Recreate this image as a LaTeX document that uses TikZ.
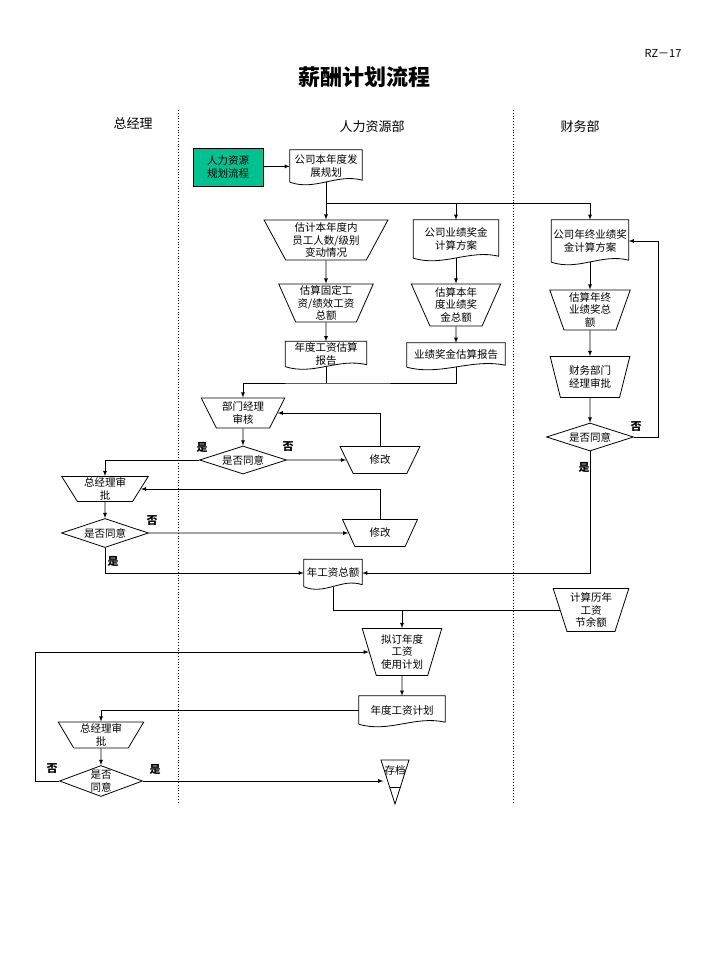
\documentclass[tikz,border=0pt]{standalone}
\usepackage{fontspec}
\setmainfont{Noto Sans CJK SC}
\usetikzlibrary{shapes.geometric,calc}
\definecolor{hrgreen}{RGB}{0,194,144}
\newcommand{\nodefont}{\fontsize{10.5}{12.8}\selectfont}
\begin{document}
\begin{tikzpicture}
    [
    x=1pt, y=-1pt,
    line/.style={draw, line width=0.8pt},
    arrow/.style={line, -latex},
    lane/.style={draw, line width=0.8pt, dotted},
    lanehead/.style={font=\fontsize{13}{13}\selectfont},
    yesno/.style={inner sep=1pt, font=\fontsize{11}{11}\selectfont\bfseries},
    doc/.style={rectangle, align=center, inner sep=1pt, font=\nodefont,
        append after command={\pgfextra{
            \draw[line] (\tikzlastnode.south west) -- (\tikzlastnode.north west)
                -- (\tikzlastnode.north east) -- ([yshift=2pt]\tikzlastnode.south east)
                .. controls ($(\tikzlastnode.south west)!0.65!(\tikzlastnode.south east)+(0,9pt)$)
                and ($(\tikzlastnode.south west)!0.35!(\tikzlastnode.south east)+(0,-9pt)$)
                .. (\tikzlastnode.south west);}}},
    subproc/.style={rectangle, draw, line width=0.8pt, fill=hrgreen, align=center,
        inner sep=1pt, font=\nodefont,
        append after command={\pgfextra{
            \draw[line] ([xshift=7pt]\tikzlastnode.north west) -- ([xshift=7pt]\tikzlastnode.south west);
            \draw[line] ([xshift=-7pt]\tikzlastnode.north east) -- ([xshift=-7pt]\tikzlastnode.south east);}}},
    trap/.style={trapezium, shape border rotate=180, trapezium stretches=true,
        trapezium angle=#1, draw, line width=0.8pt, align=center, inner sep=0pt, font=\nodefont},
    trap/.default=62,
    decision/.style={diamond, draw, line width=0.8pt, aspect=3, inner sep=0pt,
        align=center, font=\nodefont}
    ]
    \useasboundingbox (0,0) rectangle (720,960);

    \node (title) at (364,77) [font=\fontsize{22}{22}\selectfont\bfseries] {薪酬计划流程};
    \node (code) at (663,53) [font=\fontsize{11}{11}\selectfont] {RZ－17};
    \node (gm) at (133,123) [lanehead] {总经理};
    \node (hrd) at (372,127) [lanehead] {人力资源部};
    \node (fin) at (580,127) [lanehead] {财务部};
    \draw [lane] (178,110) -- (178,802);
    \draw [lane] (513,110) -- (513,802);

    \node (plan) at (228,167) [subproc, minimum width=70, minimum height=38] {人力资源\\规划流程};
    \node (dev) at (326,166) [doc, minimum width=72, minimum height=32] {公司本年度发\\展规划};
    \node (staff) at (326,240) [trap=63, minimum width=124, minimum height=40] {估计本年度内\\员工人数/级别\\变动情况};
    \node (bonusplan) at (456,239) [doc, minimum width=85, minimum height=38] {公司业绩奖金\\计算方案};
    \node (yearplan) at (590,241) [doc, minimum width=77, minimum height=42] {公司年终业绩奖\\金计算方案};
    \node (wagesum) at (326,303) [trap=66, minimum width=95, minimum height=38] {估算固定工\\资/绩效工资\\总额};
    \node (bonussum) at (456,305) [trap=67, minimum width=90, minimum height=42] {估算本年\\度业绩奖\\金总额};
    \node (yearsum) at (590,310) [trap=72, minimum width=81, minimum height=40] {估算年终\\业绩奖总\\额};
    \node (wagerep) at (326,354) [doc, minimum width=81, minimum height=25] {年度工资估算\\报告};
    \node (bonusrep) at (456,355) [doc, minimum width=98, minimum height=24] {业绩奖金估算报告};
    \node (finchk) at (590,377) [trap=72, minimum width=80, minimum height=41] {财务部门\\经理审批};
    \node (deptchk) at (243,413) [trap, minimum width=84, minimum height=30] {部门经理\\审核};
    \node (ok1) at (243,460) [decision, minimum width=87, minimum height=28] {是否同意};
    \node (fix1) at (380,460) [trap, minimum width=80, minimum height=27] {修改};
    \node (okf) at (590,437) [decision, minimum width=87, minimum height=28] {是否同意};
    \node (gmchk) at (105,489) [trap, minimum width=87, minimum height=25] {总经理审\\批};
    \node (ok2) at (105,533) [decision, minimum width=87, minimum height=29] {是否同意};
    \node (fix2) at (380,533) [trap, minimum width=75, minimum height=27] {修改};
    \node (total) at (333,573) [doc, minimum width=58, minimum height=27] {年工资总额};
    \node (saving) at (591,610) [trap=71, minimum width=76, minimum height=43] {计算历年\\工资\\节余额};
    \node (draft) at (402,652) [trap=72, minimum width=80, minimum height=47] {拟订年度\\工资\\使用计划};
    \node (useplan) at (402,710) [doc, minimum width=86, minimum height=28] {年度工资计划};
    \node (gmchk2) at (101,735) [trap, minimum width=86, minimum height=26] {总经理审\\批};
    \node (ok3) at (101,781) [decision, aspect=2.6, minimum width=83, minimum height=31] {是否\\同意};
    \node (archive) at (395,770) [inner sep=1pt, font=\nodefont] {存档};
    \draw [line] (381,760) -- (409,760) -- (395,804) -- cycle;
    \draw [line] (390,787) -- (400,787);

    \node (y1) at (202,447) [yesno] {是};
    \node (n1) at (288,447) [yesno] {否};
    \node (n2) at (152,521) [yesno] {否};
    \node (y2) at (113,561) [yesno] {是};
    \node (nf) at (636,427) [yesno] {否};
    \node (yf) at (584,467) [yesno] {是};
    \node (n3) at (52,769) [yesno] {否};
    \node (y3) at (155,769) [yesno] {是};

    \coordinate (split) at (326,203);
    \coordinate (join1) at (326,383);
    \draw [arrow] (plan) to (dev);
    \draw [arrow] (dev) to (staff);
    \draw [arrow] (split) -| (bonusplan);
    \draw [arrow] (split) -| (yearplan);
    \draw [arrow] (staff) to (wagesum);
    \draw [arrow] (bonusplan) to (bonussum);
    \draw [arrow] (yearplan) to (yearsum);
    \draw [arrow] (wagesum) to (wagerep);
    \draw [arrow] (bonussum) to (bonusrep);
    \draw [arrow] (yearsum) to (finchk);
    \draw [arrow] (finchk) to (okf);
    \draw [line] (wagerep) to (join1);
    \draw [arrow] (bonusrep.south) |- (join1) -| (deptchk);
    \draw [arrow] (deptchk) to (ok1);
    \draw [arrow] (ok1) to (fix1);
    \draw [arrow] (fix1.north) |- (deptchk.east);
    \draw [arrow] (ok1.west) -| (gmchk);
    \draw [arrow] (gmchk) to (ok2);
    \draw [arrow] (ok2) to (fix2);
    \draw [arrow] (fix2.north) |- (gmchk.east);
    \draw [arrow] (ok2.south) |- (total.west);
    \draw [arrow] (okf.east) -- ++(24,0) |- (yearplan.east);
    \draw [arrow] (okf.south) |- (total.east);
    \draw [line] (total.south) |- (draft.north |- saving.west);
    \draw [arrow] (saving.west) -| (draft.north);
    \draw [arrow] (draft) to (useplan);
    \draw [arrow] (useplan.west) -| (gmchk2);
    \draw [arrow] (gmchk2) to (ok3);
    \draw [arrow] (ok3.west) -- ++(-24,0) |- (draft.west);
    \draw [arrow] (ok3.east) -- (ok3.east -| archive.west);
\end{tikzpicture}
\end{document}
